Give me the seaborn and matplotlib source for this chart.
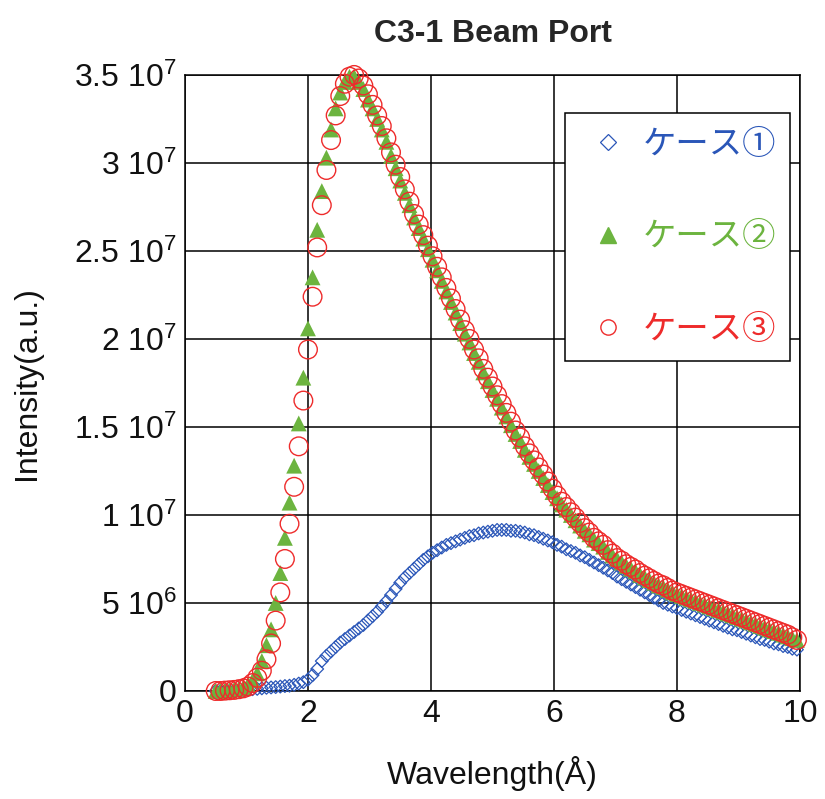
"""C3-1 Beam Port — wavelength spectra for three cases."""

import matplotlib

matplotlib.use("Agg")

import matplotlib.pyplot as plt
import pandas as pd
import seaborn as sns
from matplotlib.lines import Line2D
from matplotlib.ticker import FixedLocator

# wavelength grid (Å)
WAVELENGTH = [
    0.5, 0.575, 0.65, 0.725, 0.8, 0.875, 0.95, 1.025, 1.1, 1.175,
    1.25, 1.325, 1.4, 1.475, 1.55, 1.625, 1.7, 1.775, 1.85, 1.925,
    2.0, 2.075, 2.15, 2.225, 2.3, 2.375, 2.45, 2.525, 2.6, 2.675,
    2.75, 2.825, 2.9, 2.975, 3.05, 3.125, 3.2, 3.275, 3.35, 3.425,
    3.5, 3.575, 3.65, 3.725, 3.8, 3.875, 3.95, 4.025, 4.1, 4.175,
    4.25, 4.325, 4.4, 4.475, 4.55, 4.625, 4.7, 4.775, 4.85, 4.925,
    5.0, 5.075, 5.15, 5.225, 5.3, 5.375, 5.45, 5.525, 5.6, 5.675,
    5.75, 5.825, 5.9, 5.975, 6.05, 6.125, 6.2, 6.275, 6.35, 6.425,
    6.5, 6.575, 6.65, 6.725, 6.8, 6.875, 6.95, 7.025, 7.1, 7.175,
    7.25, 7.325, 7.4, 7.475, 7.55, 7.625, 7.7, 7.775, 7.85, 7.925,
    8.0, 8.075, 8.15, 8.225, 8.3, 8.375, 8.45, 8.525, 8.6, 8.675,
    8.75, 8.825, 8.9, 8.975, 9.05, 9.125, 9.2, 9.275, 9.35, 9.425,
    9.5, 9.575, 9.65, 9.725, 9.8, 9.875, 9.95,
]

# intensities in units of 1e6
CASE1 = [
    0.0, 0.0, 0.0, 0.01, 0.02, 0.03, 0.05, 0.07, 0.1, 0.12,
    0.15, 0.18, 0.2, 0.22, 0.25, 0.28, 0.3, 0.35, 0.42, 0.5,
    0.65, 0.9, 1.25, 1.7, 2.0, 2.25, 2.5, 2.75, 2.95, 3.15,
    3.35, 3.55, 3.75, 4.0, 4.25, 4.5, 4.8, 5.1, 5.45, 5.8,
    6.15, 6.45, 6.7, 6.95, 7.2, 7.45, 7.65, 7.85, 8.0, 8.15,
    8.3, 8.4, 8.5, 8.6, 8.7, 8.8, 8.85, 8.95, 9.0, 9.05,
    9.1, 9.15, 9.15, 9.15, 9.1, 9.1, 9.05, 9.0, 8.9, 8.85,
    8.75, 8.65, 8.55, 8.45, 8.3, 8.2, 8.05, 7.95, 7.85, 7.7,
    7.6, 7.45, 7.3, 7.15, 7.0, 6.85, 6.7, 6.5, 6.35, 6.2,
    6.05, 5.9, 5.75, 5.6, 5.45, 5.3, 5.15, 5.0, 4.9, 4.8,
    4.7, 4.6, 4.5, 4.4, 4.3, 4.2, 4.1, 4.0, 3.9, 3.8,
    3.7, 3.6, 3.5, 3.45, 3.35, 3.25, 3.15, 3.05, 2.95, 2.9,
    2.8, 2.7, 2.65, 2.55, 2.5, 2.4, 2.35,
]
CASE2 = [
    0.0, 0.0, 0.02, 0.04, 0.08, 0.12, 0.2, 0.35, 0.6, 1.0,
    1.7, 2.6, 3.5, 5.0, 6.7, 8.7, 10.7, 12.8, 15.2, 17.8,
    20.6, 23.5, 26.2, 28.4, 30.3, 31.9, 33.1, 34.0, 34.6, 34.9,
    34.9, 34.6, 34.2, 33.6, 33.1, 32.5, 31.9, 31.2, 30.4, 29.7,
    29.0, 28.3, 27.6, 26.9, 26.3, 25.7, 25.1, 24.5, 23.9, 23.3,
    22.7, 22.1, 21.5, 20.9, 20.3, 19.8, 19.2, 18.7, 18.1, 17.6,
    17.1, 16.6, 16.1, 15.6, 15.1, 14.6, 14.2, 13.7, 13.3, 12.9,
    12.5, 12.1, 11.7, 11.3, 10.95, 10.6, 10.3, 10.0, 9.7, 9.4,
    9.1, 8.9, 8.6, 8.4, 8.2, 7.9, 7.7, 7.5, 7.3, 7.1,
    6.95, 6.8, 6.6, 6.45, 6.3, 6.15, 6.0, 5.9, 5.75, 5.6,
    5.5, 5.4, 5.3, 5.2, 5.1, 5.0, 4.9, 4.8, 4.7, 4.6,
    4.5, 4.4, 4.3, 4.2, 4.1, 4.0, 3.9, 3.8, 3.7, 3.6,
    3.5, 3.4, 3.3, 3.2, 3.1, 3.0, 2.9,
]
CASE3 = [
    0.0, 0.0, 0.02, 0.04, 0.06, 0.1, 0.15, 0.25, 0.45, 0.75,
    1.15, 1.8, 2.7, 4.0, 5.6, 7.5, 9.5, 11.6, 13.9, 16.5,
    19.4, 22.4, 25.2, 27.6, 29.6, 31.3, 32.7, 33.8, 34.5, 34.9,
    35.0, 34.8, 34.4, 33.9, 33.3, 32.7, 32.1, 31.4, 30.6, 29.9,
    29.2, 28.5, 27.8, 27.1, 26.5, 25.9, 25.3, 24.7, 24.1, 23.5,
    22.9, 22.3, 21.7, 21.1, 20.5, 20.0, 19.4, 18.9, 18.3, 17.8,
    17.3, 16.8, 16.3, 15.8, 15.3, 14.8, 14.4, 13.9, 13.5, 13.1,
    12.7, 12.3, 11.9, 11.5, 11.1, 10.75, 10.45, 10.15, 9.85, 9.55,
    9.25, 9.0, 8.7, 8.5, 8.3, 8.0, 7.8, 7.55, 7.4, 7.2,
    7.05, 6.9, 6.7, 6.55, 6.4, 6.25, 6.1, 6.0, 5.85, 5.7,
    5.6, 5.5, 5.4, 5.3, 5.2, 5.1, 5.0, 4.9, 4.8, 4.7,
    4.6, 4.5, 4.4, 4.3, 4.2, 4.1, 4.0, 3.9, 3.8, 3.7,
    3.6, 3.5, 3.4, 3.3, 3.2, 3.05, 2.9,
]
SCALE = 1e6

CASE_LABELS = ["ケース①", "ケース②", "ケース③"]
X_TICKS = [0, 2, 4, 6, 8, 10]
Y_TICKS = [0, 5e6, 1e7, 1.5e7, 2e7, 2.5e7, 3e7, 3.5e7]
Y_TICK_LABELS = [
    "0",
    r"5 $\mathregular{10^{6}}$",
    r"1 $\mathregular{10^{7}}$",
    r"1.5 $\mathregular{10^{7}}$",
    r"2 $\mathregular{10^{7}}$",
    r"2.5 $\mathregular{10^{7}}$",
    r"3 $\mathregular{10^{7}}$",
    r"3.5 $\mathregular{10^{7}}$",
]

BLUE = "#2a56b8"
GREEN = "#6cb43f"
RED = "#ee2b2b"

sns.set_theme(style="white")
plt.rcParams["font.family"] = ["Liberation Sans", "Noto Sans CJK JP", "DejaVu Sans"]
plt.rcParams["mathtext.fontset"] = "custom"
plt.rcParams["mathtext.rm"] = "Liberation Sans"

df = pd.DataFrame(
    {
        "wavelength": WAVELENGTH,
        "case1": [v * SCALE for v in CASE1],
        "case2": [v * SCALE for v in CASE2],
        "case3": [v * SCALE for v in CASE3],
    }
)

fig = plt.figure(figsize=(8.25, 7.99), dpi=100)
ax = fig.add_axes([0.2242, 0.1352, 0.7455, 0.7710])

# ケース① : 白抜きダイヤ
sns.scatterplot(
    data=df, x="wavelength", y="case1", ax=ax, marker="D", s=42,
    color=BLUE, facecolor="none", edgecolor=BLUE, linewidth=0.9,
    clip_on=False, zorder=3,
)
# ケース② : 塗りつぶし三角
sns.scatterplot(
    data=df, x="wavelength", y="case2", ax=ax, marker="^", s=130,
    color=GREEN, edgecolor="none", linewidth=0,
    clip_on=False, zorder=4,
)
# ケース③ : 白抜き丸
sns.scatterplot(
    data=df, x="wavelength", y="case3", ax=ax, marker="o", s=180,
    color=RED, facecolor="none", edgecolor=RED, linewidth=1.0,
    clip_on=False, zorder=5,
)

ax.set_xlim(0, 10)
ax.set_ylim(0, 3.5e7)
ax.xaxis.set_major_locator(FixedLocator(X_TICKS))
ax.yaxis.set_major_locator(FixedLocator(Y_TICKS))
ax.set_xticklabels([str(t) for t in X_TICKS])
ax.set_yticklabels(Y_TICK_LABELS)
ax.tick_params(axis="both", length=0, labelsize=23, colors="#111111")
ax.tick_params(axis="x", pad=6)
ax.tick_params(axis="y", pad=6)

ax.grid(True, color="black", linewidth=1.1)
ax.set_axisbelow(True)
for spine in ax.spines.values():
    spine.set_color("black")
    spine.set_linewidth(1.1)

ax.set_xlabel("Wavelength(Å)", fontsize=23, color="#111111")
ax.set_ylabel("Intensity(a.u.)", fontsize=23, color="#111111")
ax.xaxis.set_label_coords(0.5, -0.106)
ax.yaxis.set_label_coords(-0.232, 0.5)
ax.set_title("C3-1 Beam Port", fontsize=23, fontweight="bold", pad=24)

handles = [
    Line2D([], [], linestyle="none", marker="D", markersize=8,
           markerfacecolor="none", markeredgecolor=BLUE, markeredgewidth=0.9,
           color=BLUE),
    Line2D([], [], linestyle="none", marker="^", markersize=11,
           markerfacecolor=GREEN, markeredgecolor=GREEN, color=GREEN),
    Line2D([], [], linestyle="none", marker="o", markersize=11,
           markerfacecolor="none", markeredgecolor=RED, markeredgewidth=1.0,
           color=RED),
]
leg = ax.legend(
    handles, CASE_LABELS,
    loc="upper right", bbox_to_anchor=(0.984, 0.938), borderaxespad=0,
    prop={"family": ["Noto Sans CJK JP", "DejaVu Sans"], "size": 24},
    labelcolor=[BLUE, GREEN, RED],
    frameon=True, fancybox=False, framealpha=1, edgecolor="black",
    borderpad=0.42, labelspacing=1.72, handlelength=1.7, handletextpad=0.2,
)
leg.get_frame().set_linewidth(1.1)
leg.set_zorder(10)

fig.savefig("out.png", dpi=100)
